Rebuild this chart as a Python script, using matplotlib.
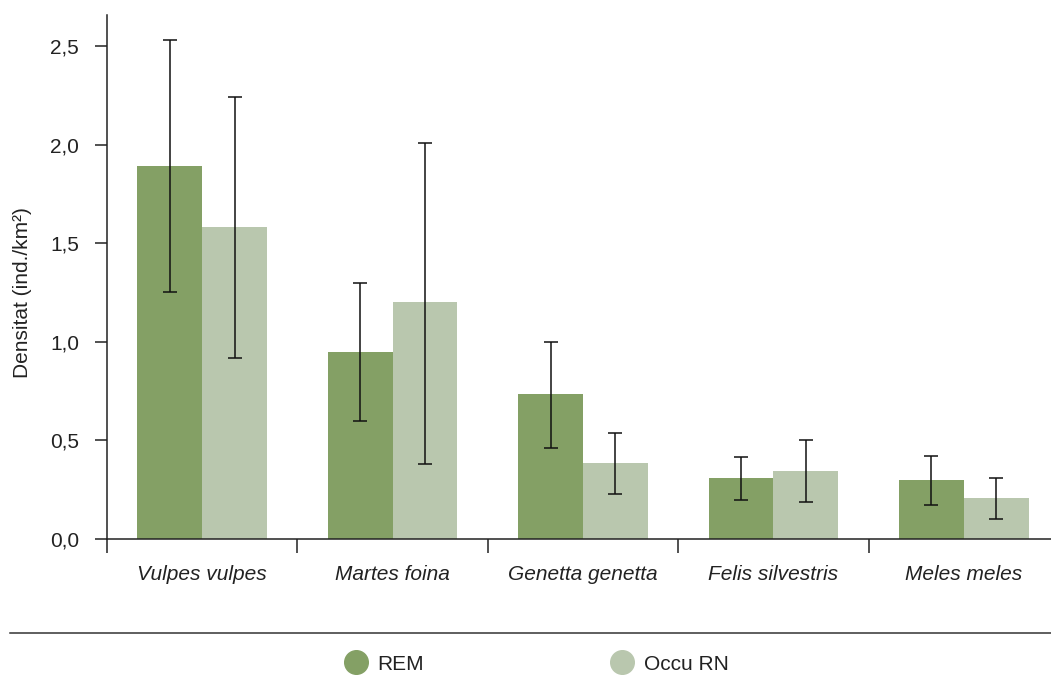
import numpy as np
import matplotlib.pyplot as plt
from matplotlib.lines import Line2D

plt.rcParams['font.family'] = ['Liberation Sans', 'DejaVu Sans']

species = ['Vulpes vulpes', 'Martes foina', 'Genetta genetta', 'Felis silvestris', 'Meles meles']
rem = [1.89, 0.95, 0.735, 0.31, 0.30]
rem_low = [1.25, 0.60, 0.46, 0.20, 0.17]
rem_high = [2.53, 1.30, 1.00, 0.415, 0.42]
occu = [1.58, 1.20, 0.385, 0.345, 0.21]
occu_low = [0.92, 0.38, 0.23, 0.19, 0.10]
occu_high = [2.24, 2.01, 0.54, 0.50, 0.31]

c_rem = '#84a065'
c_occu = '#b9c7ae'

fig = plt.figure(figsize=(10.51, 6.86), dpi=100)
ax = fig.add_axes([107/1051, 1-539/686, 952/1051, 524/686])

x = np.arange(len(species))
w = 0.34
rem = np.asarray(rem)
occu = np.asarray(occu)
rem_err = [rem - np.asarray(rem_low), np.asarray(rem_high) - rem]
occu_err = [occu - np.asarray(occu_low), np.asarray(occu_high) - occu]

ax.bar(x - w/2, rem, w, color=c_rem, zorder=2)
ax.bar(x + w/2, occu, w, color=c_occu, zorder=2)
ax.errorbar(x - w/2, rem, yerr=rem_err, fmt='none', ecolor='#111111',
            elinewidth=1.1, capsize=5, capthick=1.1, zorder=3)
ax.errorbar(x + w/2, occu, yerr=occu_err, fmt='none', ecolor='#111111',
            elinewidth=1.1, capsize=5, capthick=1.1, zorder=3)

ax.set_xlim(-0.5, len(species) - 0.5)
ax.set_ylim(0, 2.657)
ax.set_yticks([0, 0.5, 1.0, 1.5, 2.0, 2.5])
ax.set_yticklabels(['0,0', '0,5', '1,0', '1,5', '2,0', '2,5'])
ax.set_xticks(np.arange(-0.5, len(species), 1.0))
ax.set_xticklabels([])
ax.set_xticks(x, minor=True)
ax.set_xticklabels(species, minor=True, fontstyle='italic', fontsize=15, color='#222222')
ax.tick_params(axis='x', which='minor', length=0, pad=19)
ax.tick_params(axis='x', which='major', length=10, width=1.1, color='#222222')
ax.tick_params(axis='y', length=9, width=1.1, color='#222222', labelsize=15,
               labelcolor='#222222', pad=11)

for s in ['top', 'right']:
    ax.spines[s].set_visible(False)
for s in ['left', 'bottom']:
    ax.spines[s].set_linewidth(1.1)
    ax.spines[s].set_color('#222222')

ax.set_ylabel('Densitat (ind./km²)', fontsize=15, color='#222222', va='center')
ax.yaxis.set_label_coords(-0.089, 0.47)

# separator line and legend
fig.add_artist(Line2D([10/1051, 1], [1-633/686, 1-633/686], transform=fig.transFigure,
                      color='#333333', linewidth=1.1))
handles = [Line2D([], [], marker='o', linestyle='none', markersize=17, color=c_rem),
           Line2D([], [], marker='o', linestyle='none', markersize=17, color=c_occu)]
fig.legend(handles, ['REM', 'Occu RN'], loc='center', bbox_to_anchor=(532/1051, 1-664/686),
           ncol=2, frameon=False, fontsize=15, handletextpad=0.05, columnspacing=8.5,
           labelcolor='#222222')

fig.savefig('out.png', dpi=100)
